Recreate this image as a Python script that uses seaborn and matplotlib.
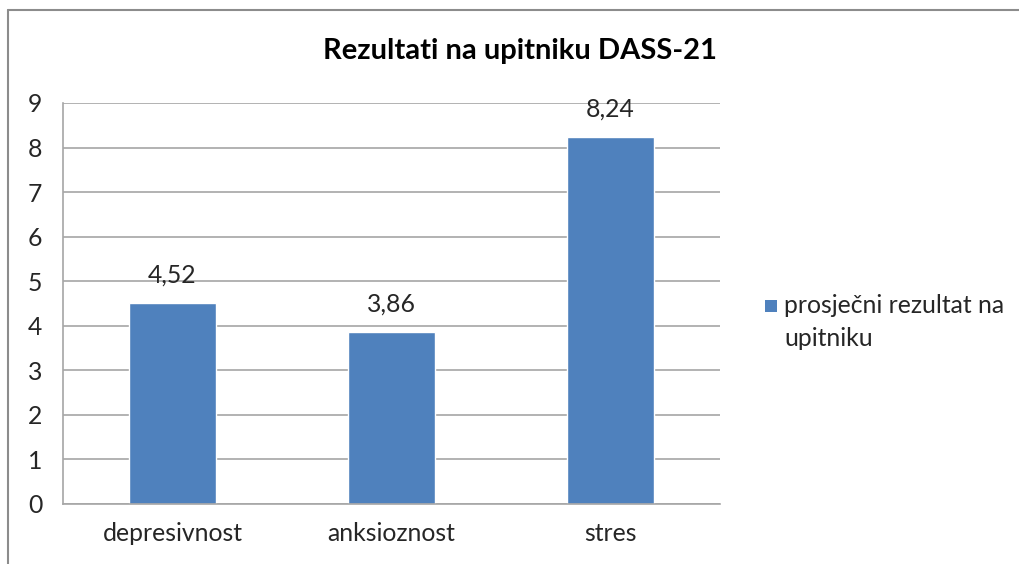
import pandas as pd
import seaborn as sns
import matplotlib.pyplot as plt
from matplotlib.lines import Line2D
from matplotlib.patches import Rectangle

# Chart data
categories = ['depresivnost', 'anksioznost', 'stres']
values = [4.52, 3.86, 8.24]
value_labels = ['4,52', '3,86', '8,24']
series_name = 'prosječni rezultat na\nupitniku'

df = pd.DataFrame({'kategorija': categories, 'rezultat': values})

sns.set_style('white')
plt.rcParams['font.family'] = ['Lato', 'DejaVu Sans']

bar_color = '#4F81BD'
grid_color = '#A6A6A6'
text_color = '#262626'
fs = 17.8

fig = plt.figure(figsize=(10.2, 5.64), dpi=100)
ax = fig.add_axes([0.0618, 0.1064, 0.644, 0.711])

sns.barplot(data=df, x='kategorija', y='rezultat', color=bar_color,
            width=0.4, saturation=1, ax=ax)

ax.set_ylim(0, 9)
ax.set_xlim(-0.5, 2.5)
ax.set_yticks(range(10))
ax.yaxis.grid(True, color=grid_color, linewidth=1.2)
ax.set_axisbelow(True)
ax.set_xlabel('')
ax.set_ylabel('')

for side in ['top', 'right']:
    ax.spines[side].set_visible(False)
for side in ['left', 'bottom']:
    ax.spines[side].set_color(grid_color)
    ax.spines[side].set_linewidth(1.2)

ax.tick_params(axis='y', length=7, width=1.2, color=grid_color, direction='out',
               labelsize=fs, labelcolor=text_color, pad=8)
ax.tick_params(axis='x', length=0, labelsize=fs, labelcolor=text_color, pad=13)

# category separator ticks on x axis
ax.set_xticks([-0.5, 0.5, 1.5, 2.5], minor=True)
ax.tick_params(axis='x', which='minor', length=7, width=1.2, color=grid_color,
               direction='out')

for i, (v, lab) in enumerate(zip(values, value_labels)):
    ax.text(i, v + 0.37, lab, ha='center', va='bottom', fontsize=fs,
            color=text_color)

fig.text(0.51, 0.91, 'Rezultati na upitniku DASS-21', ha='center', va='center',
         fontsize=21, fontweight='bold', color='black')

# legend: square marker beside the first line of the series name
fig.add_artist(Rectangle((765 / 1020, 1 - 312 / 564), 12 / 1020, 12 / 564,
                         transform=fig.transFigure, facecolor=bar_color,
                         edgecolor='none'))
fig.text(784 / 1020, 1 - 294 / 564, series_name, ha='left', va='top',
         fontsize=fs, color=text_color, linespacing=1.5)

# outer chart frame (cut off at right and bottom)
frame_color = '#8C8C8C'
fig.add_artist(Line2D([8 / 1020, 1], [1 - 10 / 564, 1 - 10 / 564],
                      transform=fig.transFigure, color=frame_color, linewidth=1.5))
fig.add_artist(Line2D([8 / 1020, 8 / 1020], [0, 1 - 10 / 564],
                      transform=fig.transFigure, color=frame_color, linewidth=1.5))

fig.savefig('out.png', dpi=100, facecolor='white')
